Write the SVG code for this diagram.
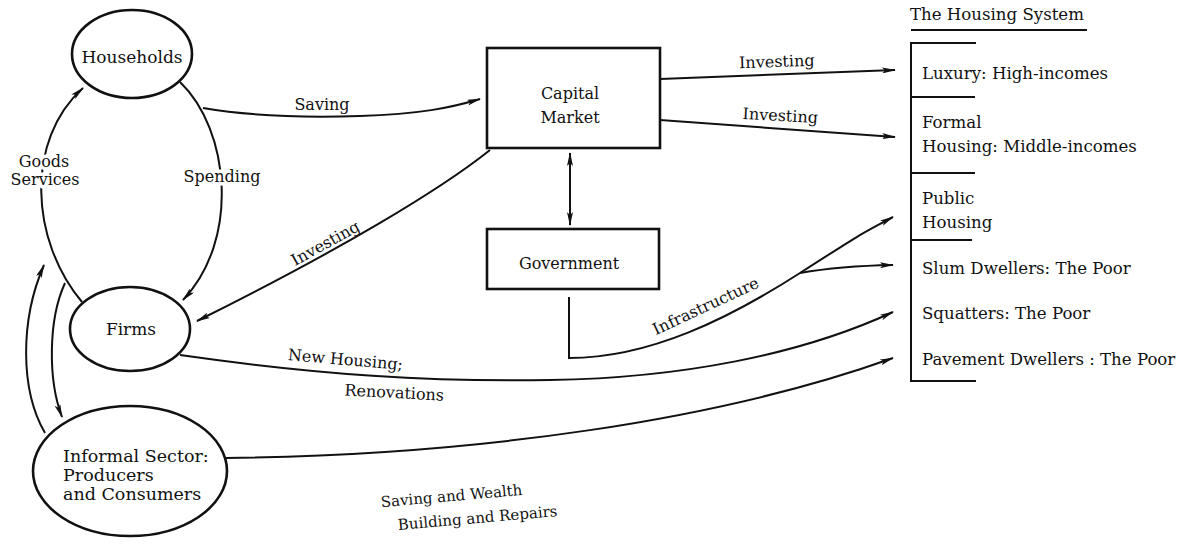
<svg xmlns="http://www.w3.org/2000/svg" width="1181" height="545" viewBox="0 0 1181 545">
<style>
  text { font-family: "DejaVu Serif", "Liberation Serif", serif; font-size: 16px; fill: #111; }
  .big { font-size: 17px; }
  .hs { font-size: 16.6px; }
  .inf { font-size: 17.5px; }
  .small { font-size: 15px; }
  .halo { stroke: #fff; stroke-width: 7px; paint-order: stroke; stroke-linejoin: round; }
  .shape { fill: #fff; stroke: #111; stroke-width: 2.6; }
  .line { fill: none; stroke: #111; stroke-width: 2; }
  .conn path { fill: none; stroke: #111; stroke-width: 2; }
</style>
<defs>
  <marker id="ah" viewBox="0 0 14 6" refX="13" refY="3" markerWidth="14" markerHeight="6" orient="auto-start-reverse" markerUnits="userSpaceOnUse">
    <path d="M0,0 L14,3 L0,6 L3,3 z" fill="#111"/>
  </marker>
</defs>
<rect width="1181" height="545" fill="#fff"/>

<g id="connectors" class="conn">
  <path d="M82,302 C 30,240 25,140 83,88" marker-end="url(#ah)"/>
  <path d="M180,82 C 230,130 240,240 183,300" marker-end="url(#ah)"/>
  <path d="M45,433 C 20,390 20,320 44,265" marker-end="url(#ah)"/>
  <path d="M65,283 C 48,320 48,380 62,417" marker-end="url(#ah)"/>
  <path d="M203,108 C 250,116 300,118 360,116 S 450,108 480,99" marker-end="url(#ah)"/>
  <path d="M490,150 C 440,190 340,250 197,321" marker-end="url(#ah)"/>
  <path d="M570,153 L570,225" marker-start="url(#ah)" marker-end="url(#ah)"/>
  <path d="M660,79 L895,70" marker-end="url(#ah)"/>
  <path d="M660,120 L895,137" marker-end="url(#ah)"/>
  <path d="M569,297 V358 C 650,358 730,318 800,273 S 860,235 893,217" marker-end="url(#ah)"/>
  <path d="M800,273 Q 840,266 893,265" marker-end="url(#ah)"/>
  <path d="M180,355 C 320,375 430,382 550,380 C 680,378 800,355 893,312" marker-end="url(#ah)"/>
  <path d="M226,458 C 480,455 720,420 893,358" marker-end="url(#ah)"/>
</g>

<g id="connector-labels">
  <text class="halo" x="44" y="167" text-anchor="middle">Goods</text>
  <text class="halo" x="45" y="185" text-anchor="middle">Services</text>
  <text class="halo" x="222" y="182" text-anchor="middle">Spending</text>
  <text x="322" y="110" text-anchor="middle">Saving</text>
  <text x="0" y="0" text-anchor="middle" transform="translate(328,248) rotate(-29)">Investing</text>
  <text x="0" y="0" text-anchor="middle" transform="translate(777,67) rotate(-2)">Investing</text>
  <text x="0" y="0" text-anchor="middle" transform="translate(780,121) rotate(3)">Investing</text>
  <text x="0" y="0" text-anchor="middle" transform="translate(708,311) rotate(-25)">Infrastructure</text>
  <text x="0" y="0" text-anchor="middle" transform="translate(345,365) rotate(5)">New Housing;</text>
  <text x="0" y="0" text-anchor="middle" transform="translate(394,398) rotate(3)">Renovations</text>
  <text class="small" x="0" y="0" text-anchor="middle" transform="translate(452,501) rotate(-5)">Saving and Wealth</text>
  <text class="small" x="0" y="0" text-anchor="middle" transform="translate(478,523) rotate(-5)">Building and Repairs</text>
</g>

<g id="households">
  <ellipse class="shape" cx="132" cy="54" rx="60" ry="44"/>
  <text class="big" x="132" y="63" text-anchor="middle">Households</text>
</g>

<g id="firms">
  <ellipse class="shape" cx="130" cy="329" rx="60" ry="42"/>
  <text class="big" x="131" y="335" text-anchor="middle">Firms</text>
</g>

<g id="informal-sector">
  <ellipse class="shape" cx="130" cy="471" rx="97" ry="65"/>
  <text class="inf" x="63" y="462">Informal Sector:</text>
  <text class="inf" x="63" y="481">Producers</text>
  <text class="inf" x="63" y="500">and Consumers</text>
</g>

<g id="capital-market">
  <rect class="shape" x="487" y="48" width="173" height="100"/>
  <text x="570" y="99" text-anchor="middle">Capital</text>
  <text x="570" y="123" text-anchor="middle">Market</text>
</g>

<g id="government">
  <rect class="shape" x="487" y="229" width="172" height="60"/>
  <text x="569" y="269" text-anchor="middle">Government</text>
</g>

<g id="housing-system">
  <text class="hs" x="910" y="20">The Housing System</text>
  <path class="line" d="M911,30 H1087"/>
  <path class="line" d="M976,43 H911 V381 H976 M911,97 H975 M911,173 H975 M911,240 H972" stroke-width="2.5"/>
  <text class="hs" x="922" y="79">Luxury: High-incomes</text>
  <text class="hs" x="922" y="128">Formal</text>
  <text class="hs" x="922" y="152">Housing: Middle-incomes</text>
  <text class="hs" x="922" y="204">Public</text>
  <text class="hs" x="922" y="228">Housing</text>
  <text class="hs" x="922" y="274">Slum Dwellers: The Poor</text>
  <text class="hs" x="922" y="319">Squatters: The Poor</text>
  <text class="hs" x="922" y="365">Pavement Dwellers : The Poor</text>
</g>
</svg>
